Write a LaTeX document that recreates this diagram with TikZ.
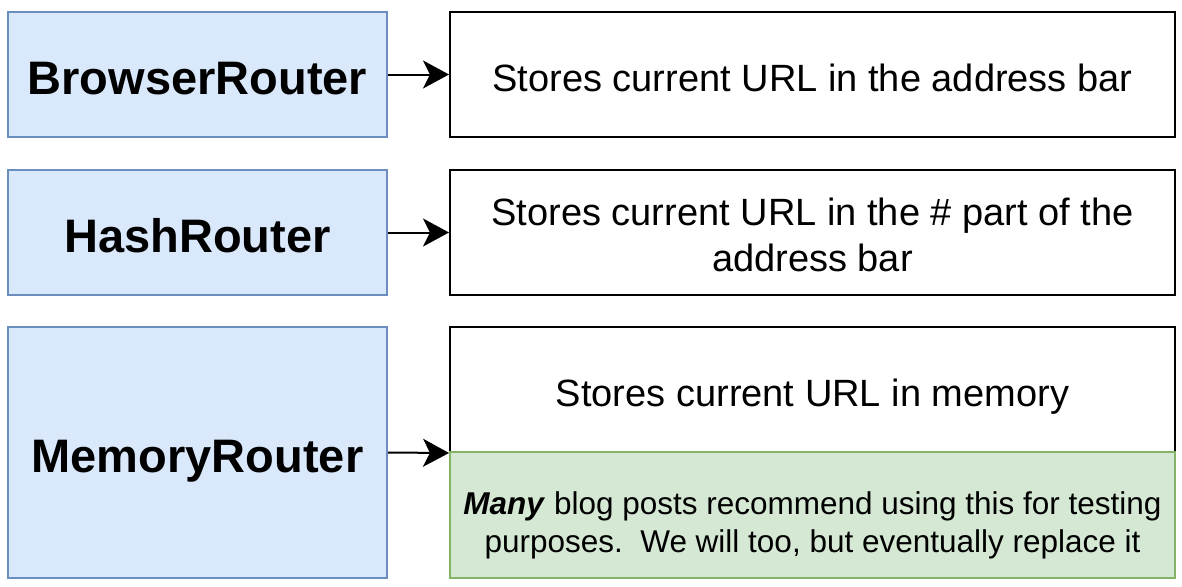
\documentclass[tikz,border=0pt]{standalone}
\usepackage{fontspec}
\setmainfont{Liberation Sans}
\usetikzlibrary{arrows.meta}
\definecolor{routerblue}{RGB}{218,232,252}
\definecolor{routerborder}{RGB}{108,142,191}
\definecolor{notegreen}{RGB}{213,232,212}
\definecolor{noteborder}{RGB}{130,179,102}

\begin{document}
\begin{tikzpicture}[x=1pt,y=-1pt,
  router/.style={draw=routerborder,fill=routerblue,line width=2pt,minimum width=379pt,inner sep=0pt,text height=40pt,text depth=0pt,font=\fontsize{47}{56}\selectfont\bfseries},
  urlbox/.style={draw=black,fill=white,line width=2pt,minimum width=725pt,minimum height=125pt,inner sep=0pt,text height=34pt,text depth=0pt,align=center,font=\fontsize{38}{45.5}\selectfont},
  link/.style={line width=2pt,-{Stealth[length=26pt,width=28pt,inset=7pt]}}]
\useasboundingbox (0,0) rectangle (1182,586);
% Draw the router boxes
\node[router,minimum height=125pt] (browser) at (197.5,74.5) {BrowserRouter};
\node[router,minimum height=125pt] (hash) at (197.5,232.5) {HashRouter};
\node[router,minimum height=251pt] (memory) at (197.5,452.5) {MemoryRouter};
% Draw the description boxes
\node[urlbox] (browserurl) at (812.5,74.5) {Stores current URL in the address bar};
\node[urlbox,text height=77.7pt] (hashurl) at (812.5,232.5) {Stores current URL in the \# part of the\\address bar};
\node[urlbox] (memoryurl) at (812.5,389.5) {Stores current URL in memory};
% Add the note below
\node[draw=noteborder,fill=notegreen,line width=2pt,minimum width=725pt,minimum height=126pt,inner sep=0pt,text height=74pt,text depth=0pt,align=center,font=\fontsize{31.5}{38}\selectfont] (testnote) at (812.5,515) {\textbf{\textit{Many}} blog posts recommend using this for testing\\purposes.\ \ We will too, but eventually replace it};
% Draw the arrows
\draw[link] (browser.east) -- (browserurl.west);
\draw[link] (hash.east) -- (hashurl.west);
\draw[link] (memory.east) -- (memoryurl.south west);
\end{tikzpicture}
\end{document}
